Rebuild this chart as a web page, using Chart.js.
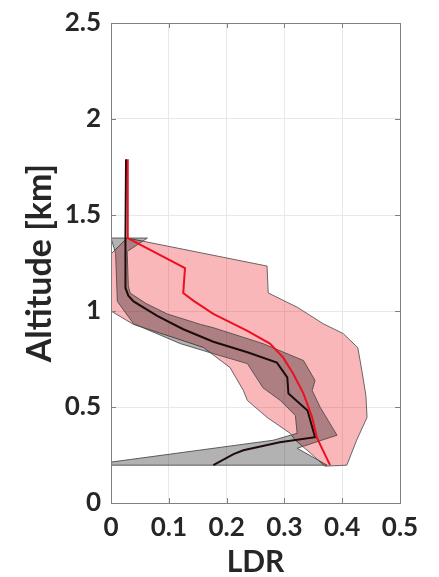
<!DOCTYPE html>
<html>
<head>
<meta charset="utf-8">
<script src="https://cdn.jsdelivr.net/npm/chart.js@4.4.1/dist/chart.umd.min.js"></script>
<style>
html, body { margin: 0; padding: 0; background: #fff; }
#wrap { width: 439px; height: 577px; }
</style>
</head>
<body>
<div id="wrap"><canvas id="ldrChart" width="439" height="577"></canvas></div>
<script>
// AXES
const xTickLabels = ['0', '0.1', '0.2', '0.3', '0.4', '0.5'];
const yTickLabels = ['0', '0.5', '1', '1.5', '2', '2.5'];

// RED PROFILE (LDR, altitude km)
const redLdr = [0.029, 0.029, 0.128, 0.125, 0.143, 0.177, 0.236, 0.275, 0.298, 0.315, 0.333, 0.348, 0.356, 0.379];
const redAlt = [1.79, 1.38, 1.224, 1.094, 1.053, 0.985, 0.897, 0.83, 0.757, 0.674, 0.57, 0.446, 0.342, 0.197];

// BLACK PROFILE
const blackLdr = [0.026, 0.025, 0.025, 0.03, 0.039, 0.08, 0.125, 0.177, 0.236, 0.287, 0.305, 0.307, 0.34, 0.353, 0.292, 0.229, 0.212, 0.177];
const blackAlt = [1.79, 1.38, 1.12, 1.08, 1.05, 0.975, 0.905, 0.84, 0.785, 0.731, 0.654, 0.57, 0.482, 0.343, 0.316, 0.275, 0.255, 0.197];

// RED SPREAD (closed outline)
const pinkLdr = [0.028, 0.27, 0.272, 0.322, 0.367, 0.402, 0.427, 0.434, 0.441, 0.443, 0.425, 0.408, 0.37, 0.345, 0.319, 0.31, 0.27, 0.236, 0.229, 0.206, 0.16, 0.10, 0.039, 0, 0, 0.028];
const pinkAlt = [1.38, 1.234, 1.094, 1.02, 0.934, 0.882, 0.809, 0.69, 0.56, 0.446, 0.327, 0.197, 0.192, 0.26, 0.327, 0.363, 0.446, 0.534, 0.586, 0.705, 0.81, 0.87, 0.93, 1.0, 1.297, 1.38];

// BLACK SPREAD (closed outline)
const grayLdr = [0.063, 0.028, 0.03, 0.033, 0.06, 0.097, 0.155, 0.177, 0.263, 0.333, 0.353, 0.348, 0.362, 0.391, 0.322, 0.374, 0, 0, 0.281, 0.322, 0.319, 0.293, 0.263, 0.236, 0.177, 0.12, 0.039, 0.011, 0.008, 0, 0.063];
const grayAlt = [1.38, 1.31, 1.13, 1.094, 1.04, 0.985, 0.93, 0.913, 0.83, 0.742, 0.638, 0.586, 0.498, 0.353, 0.285, 0.197, 0.197, 0.213, 0.327, 0.363, 0.456, 0.534, 0.60, 0.726, 0.778, 0.83, 0.934, 1.05, 1.30, 1.38, 1.38];

function toPoints(xs, ys) {
    return xs.map((x, i) => ({ x: x, y: ys[i] }));
}

// cadre + petites graduations vers l'intérieur
const boxTicks = {
    id: 'boxTicks',
    afterDatasetsDraw(chart) {
        const { ctx, chartArea: a, scales: { x, y } } = chart;
        ctx.save();
        ctx.strokeStyle = '#808080';
        ctx.lineWidth = 1;
        ctx.beginPath();
        x.ticks.forEach(t => {
            const px = Math.round(x.getPixelForValue(t.value)) + 0.5;
            ctx.moveTo(px, a.bottom); ctx.lineTo(px, a.bottom - 5);
            ctx.moveTo(px, a.top); ctx.lineTo(px, a.top + 5);
        });
        y.ticks.forEach(t => {
            const py = Math.round(y.getPixelForValue(t.value)) + 0.5;
            ctx.moveTo(a.left, py); ctx.lineTo(a.left + 5, py);
            ctx.moveTo(a.right, py); ctx.lineTo(a.right - 5, py);
        });
        ctx.stroke();
        ctx.strokeRect(Math.round(a.left) + 0.5, Math.round(a.top) + 0.5,
            Math.round(a.right - a.left), Math.round(a.bottom - a.top));
        ctx.restore();
    }
};

const ctx = document.getElementById('ldrChart').getContext('2d');
const tickFont = { family: 'Lato', size: 26, weight: 'bold', lineHeight: 1 };

new Chart(ctx, {
    type: 'scatter',
    data: {
        datasets: [
            {
                data: toPoints(redLdr, redAlt),
                showLine: true, borderColor: '#ee1020', borderWidth: 2,
                pointRadius: 0, fill: false, order: 0
            },
            {
                data: toPoints(blackLdr, blackAlt),
                showLine: true, borderColor: '#1c0c0c', borderWidth: 2,
                pointRadius: 0, fill: false, order: 1
            },
            {
                data: toPoints(grayLdr, grayAlt),
                showLine: true, borderColor: 'rgba(70,70,70,0.85)', borderWidth: 1,
                backgroundColor: 'rgba(0,0,0,0.3)', fill: 'shape',
                pointRadius: 0, order: 2
            },
            {
                data: toPoints(pinkLdr, pinkAlt),
                showLine: true, borderColor: 'rgba(80,80,80,0.85)', borderWidth: 1,
                backgroundColor: 'rgba(240,30,40,0.32)', fill: 'shape',
                pointRadius: 0, order: 3
            }
        ]
    },
    options: {
        responsive: false,
        animation: false,
        layout: { padding: { left: 0, right: 39, top: 21, bottom: 0 } },
        plugins: { legend: { display: false }, tooltip: { enabled: false } },
        scales: {
            x: {
                type: 'linear', min: 0, max: 0.5,
                afterFit: s => { s.height = 74; },
                border: { display: false },
                grid: { color: '#e8e8e8', drawTicks: false },
                ticks: {
                    stepSize: 0.1, padding: 12, color: '#262626', font: tickFont,
                    callback: (v, i) => xTickLabels[i]
                },
                title: {
                    display: true, text: 'LDR', color: '#262626', padding: 0,
                    font: { family: 'Lato', size: 30, weight: 'bold', lineHeight: 1 }
                }
            },
            y: {
                type: 'linear', min: 0, max: 2.5,
                afterFit: s => { s.width = 111; },
                border: { display: false },
                grid: { color: '#e8e8e8', drawTicks: false },
                ticks: {
                    stepSize: 0.5, padding: 10, color: '#262626', font: tickFont,
                    callback: (v, i) => yTickLabels[i]
                },
                title: {
                    display: true, text: 'Altitude [km]', color: '#262626',
                    padding: { top: 23, bottom: 0 },
                    font: { family: 'Lato', size: 34, weight: 'bold', lineHeight: 1 }
                }
            }
        }
    },
    plugins: [boxTicks]
});
</script>
</body>
</html>
